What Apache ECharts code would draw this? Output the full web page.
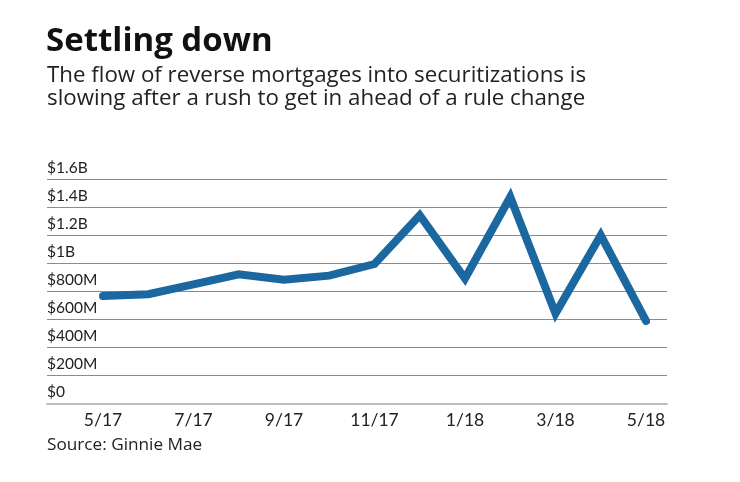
<!DOCTYPE html>
<html>
<head>
<meta charset="utf-8">
<script src="https://cdn.jsdelivr.net/npm/echarts@6/dist/echarts.min.js"></script>
<style>
html,body{margin:0;padding:0;background:#fff;}
#chart{width:740px;height:482px;}
</style>
</head>
<body>
<div id="chart"></div>
<script>
var months = ['5/17','6/17','7/17','8/17','9/17','10/17','11/17','12/17','1/18','2/18','3/18','4/18','5/18'];
// Monthly reverse mortgage securitization flow, billions of dollars
var flowBillions = [0.766, 0.779, 0.85, 0.921, 0.883, 0.912, 0.995, 1.343, 0.891, 1.474, 0.641, 1.2, 0.588];
var yTickLabels = ['$0','$200M','$400M','$600M','$800M','$1B','$1.2B','$1.4B','$1.6B'];
var yStep = 0.2;
var yMax = 1.6;

var titleText = 'Settling down';
var subtitleLines = ['The flow of reverse mortgages into securitizations is', 'slowing after a rush to get in ahead of a rule change'];
var sourceText = 'Source: Ginnie Mae';

var FONT = 'Lato, "Noto Sans", sans-serif';
var HEAD_FONT = '"Open Sans", Lato, sans-serif';
var chart = echarts.init(document.getElementById('chart'), null, {renderer:'canvas'});

var option = {
  backgroundColor: '#ffffff',
  animation: false,
  title: [
    {text: titleText, left: 46, top: 22, padding: 0,
     textStyle: {fontFamily: HEAD_FONT, fontSize: 33, fontWeight: 'bold', color: '#111', lineHeight: 40}},
    {text: subtitleLines.join('\n'), left: 47, top: 63.5, padding: 0,
     textStyle: {fontFamily: HEAD_FONT, fontSize: 22.3, fontWeight: 'normal', color: '#222', lineHeight: 23.4}},
    {text: sourceText, left: 47, top: 435.5, padding: 0,
     textStyle: {fontFamily: HEAD_FONT, fontSize: 17.2, fontWeight: 'normal', color: '#222', lineHeight: 20}}
  ],
  grid: [
    {left: 47, right: 73, top: 179.3, bottom: 78.7, containLabel: false},
    {left: 103, right: 94, top: 179.3, bottom: 78.7, containLabel: false}
  ],
  xAxis: [
    {gridIndex: 0, type: 'category', data: months, boundaryGap: false,
     axisLine: {show: true, lineStyle: {color: '#bdbdbd', width: 2}},
     axisTick: {show: false}, axisLabel: {show: false}, splitLine: {show: false}},
    {gridIndex: 1, type: 'category', data: months, boundaryGap: false,
     axisLine: {show: false}, axisTick: {show: false},
     axisLabel: {interval: 1, margin: 9, fontFamily: FONT, fontSize: 17.5, color: '#222', lineHeight: 17}}
  ],
  yAxis: [
    {gridIndex: 0, type: 'value', min: 0, max: yMax, interval: yStep,
     axisLine: {show: false}, axisTick: {show: false},
     splitLine: {show: true, showMinLine: false, lineStyle: {color: '#8c8c8c', width: 1}},
     axisLabel: {inside: true, margin: 0, align: 'left', verticalAlign: 'bottom', lineHeight: 22,
       fontFamily: FONT, fontSize: 15.5, color: '#222',
       formatter: function (v) { return yTickLabels[Math.round(v / yStep)]; }}},
    {gridIndex: 1, type: 'value', min: 0, max: yMax, interval: yStep, show: false,
     splitLine: {show: false}}
  ],
  series: [
    {type: 'line', xAxisIndex: 1, yAxisIndex: 1, data: flowBillions,
     symbol: 'none', smooth: false,
     lineStyle: {color: '#1b68a0', width: 8, cap: 'round', join: 'miter', miterLimit: 10}}
  ]
};
chart.setOption(option);
</script>
</body>
</html>
